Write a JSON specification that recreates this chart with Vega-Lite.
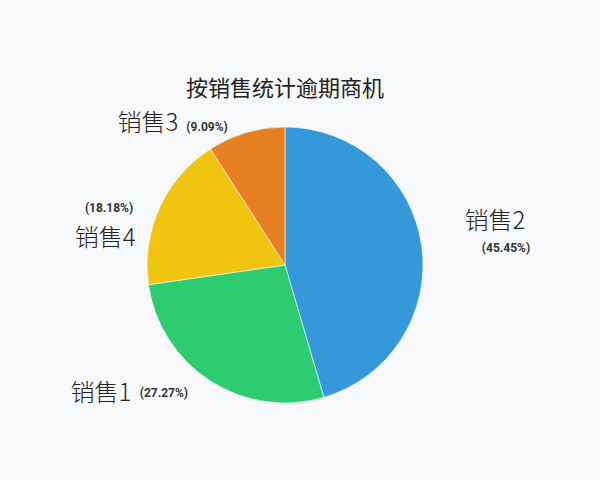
{
  "$schema": "https://vega.github.io/schema/vega-lite/v6.json",
  "width": 276,
  "height": 276,
  "autosize": {"type": "none"},
  "padding": {"left": 147, "top": 127, "right": 177, "bottom": 77},
  "background": "#f7f8fa",
  "title": {"text": "按销售统计逾期商机", "font": "Noto Sans CJK SC", "fontSize": 22, "fontWeight": "normal", "color": "#222222", "anchor": "middle", "frame": "group", "offset": 27, "dy": 41},
  "data": {"values": [
    {"销售": "销售2", "数量": 5, "占比": "(45.45%)"},
    {"销售": "销售1", "数量": 3, "占比": "(27.27%)"},
    {"销售": "销售4", "数量": 2, "占比": "(18.18%)"},
    {"销售": "销售3", "数量": 1, "占比": "(9.09%)"}
  ]},
  "encoding": {
    "theta": {"field": "数量", "type": "quantitative", "stack": true},
    "order": {"field": "数量", "type": "quantitative", "sort": "descending"}
  },
  "layer": [
    {"mark": {"type": "arc", "stroke": "#ffffff", "strokeWidth": 0.6},
     "encoding": {"color": {"field": "销售", "type": "nominal", "legend": null,
       "scale": {"domain": ["销售2", "销售1", "销售4", "销售3"], "range": ["#3498db", "#2ecc71", "#f1c40f", "#e67e22"]}}}},
    {"mark": {"type": "text", "font": "Noto Sans CJK SC", "fontSize": 24, "fontWeight": 300, "color": "#222222", "dx": 61.5, "dy": -21.6},
     "encoding": {"radius": {"value": 150}, "text": {"condition": {"test": "datum['销售'] === '销售2'", "field": "销售", "type": "nominal"}, "value": ""}}},
    {"mark": {"type": "text", "font": "Roboto", "fontSize": 12, "fontWeight": "bold", "color": "#333333", "dx": 72.5, "dy": 4.4},
     "encoding": {"radius": {"value": 150}, "text": {"condition": {"test": "datum['销售'] === '销售2'", "field": "占比", "type": "nominal"}, "value": ""}}},
    {"mark": {"type": "text", "font": "Noto Sans CJK SC", "fontSize": 24, "fontWeight": 300, "color": "#222222", "dx": -103, "dy": 2.8},
     "encoding": {"radius": {"value": 150}, "text": {"condition": {"test": "datum['销售'] === '销售1'", "field": "销售", "type": "nominal"}, "value": ""}}},
    {"mark": {"type": "text", "font": "Roboto", "fontSize": 12, "fontWeight": "bold", "color": "#333333", "dx": -40, "dy": 1.8},
     "encoding": {"radius": {"value": 150}, "text": {"condition": {"test": "datum['销售'] === '销售1'", "field": "占比", "type": "nominal"}, "value": ""}}},
    {"mark": {"type": "text", "font": "Noto Sans CJK SC", "fontSize": 24, "fontWeight": 300, "color": "#222222", "dx": -43.5, "dy": 36.2},
     "encoding": {"radius": {"value": 150}, "text": {"condition": {"test": "datum['销售'] === '销售4'", "field": "销售", "type": "nominal"}, "value": ""}}},
    {"mark": {"type": "text", "font": "Roboto", "fontSize": 12, "fontWeight": "bold", "color": "#333333", "dx": -39.5, "dy": 5.2},
     "encoding": {"radius": {"value": 150}, "text": {"condition": {"test": "datum['销售'] === '销售4'", "field": "占比", "type": "nominal"}, "value": ""}}},
    {"mark": {"type": "text", "font": "Noto Sans CJK SC", "fontSize": 24, "fontWeight": 300, "color": "#222222", "dx": -94.7, "dy": 2.9},
     "encoding": {"radius": {"value": 150}, "text": {"condition": {"test": "datum['销售'] === '销售3'", "field": "销售", "type": "nominal"}, "value": ""}}},
    {"mark": {"type": "text", "font": "Roboto", "fontSize": 12, "fontWeight": "bold", "color": "#333333", "dx": -35.7, "dy": 5.9},
     "encoding": {"radius": {"value": 150}, "text": {"condition": {"test": "datum['销售'] === '销售3'", "field": "占比", "type": "nominal"}, "value": ""}}}
  ],
  "config": {"view": {"stroke": null}}
}
